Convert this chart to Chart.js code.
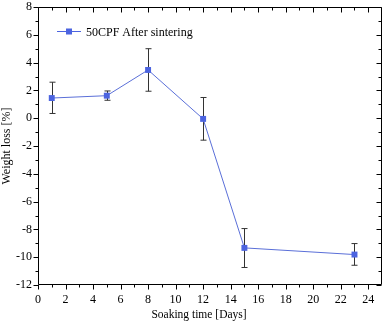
<!DOCTYPE html>
<html>
<head>
<meta charset="utf-8">
<script src="https://cdn.jsdelivr.net/npm/chart.js@4.4.0/dist/chart.umd.min.js"></script>
<style>
html, body { margin: 0; padding: 0; background: #fff; }
#wrap { width: 388px; height: 323px; }
</style>
</head>
<body>
<div id="wrap"><canvas id="chart"></canvas></div>
<script>
// soaking time (days) vs weight loss (%)
const days = [1, 5, 8, 12, 15, 23];
const weightLoss = [1.45, 1.62, 3.47, -0.05, -9.33, -9.81];
const errHigh = [2.59, 1.96, 5.0, 1.49, -7.94, -9.02];
const errLow = [0.34, 1.29, 1.94, -1.58, -10.74, -10.58];
const seriesName = '50CPF After sintering';
const xTitle = 'Soaking time [Days]';
const yTitle = 'Weight loss [%]';
const xRange = [0, 25];
const yRange = [-12, 8];

const serif = "'Liberation Serif', 'Times New Roman', serif";
const blue = '#4c64e0';

const errorBars = {
	id: 'errorBars',
	beforeDatasetsDraw(chart) {
		const { ctx, scales: { x, y } } = chart;
		ctx.save();
		ctx.strokeStyle = '#333';
		ctx.lineWidth = 1;
		days.forEach((d, i) => {
			const px = Math.round(x.getPixelForValue(d)) + .5;
			const top = y.getPixelForValue(errHigh[i]);
			const bot = y.getPixelForValue(errLow[i]);
			ctx.beginPath();
			ctx.moveTo(px, top);
			ctx.lineTo(px, bot);
			ctx.moveTo(px - 3, top);
			ctx.lineTo(px + 3, top);
			ctx.moveTo(px - 3, bot);
			ctx.lineTo(px + 3, bot);
			ctx.stroke();
		});
		ctx.restore();
	}
};

const frame = {
	id: 'frame',
	afterDraw(chart) {
		const { ctx, chartArea: a, scales: { x, y } } = chart;
		ctx.save();
		ctx.strokeStyle = '#000';
		ctx.lineWidth = 1;
		const L = Math.round(a.left) + .5, R = Math.round(a.right) - .5;
		const T = Math.round(a.top) + .5, B = Math.round(a.bottom) - .5;
		ctx.beginPath();
		ctx.rect(L, T, R - L, B - T);
		// ticks: outward on bottom/left, inward on top/right
		for (let v = xRange[0]; v <= 24; v++) {
			const px = Math.round(x.getPixelForValue(v)) + .5;
			const len = v % 2 ? 3 : 5;
			ctx.moveTo(px, B); ctx.lineTo(px, B + len);
			ctx.moveTo(px, T); ctx.lineTo(px, T + len);
		}
		for (let v = yRange[0]; v <= yRange[1]; v++) {
			const py = Math.round(y.getPixelForValue(v)) + .5;
			const len = v % 2 ? 3 : 5;
			ctx.moveTo(L, py); ctx.lineTo(L - len, py);
			ctx.moveTo(R, py); ctx.lineTo(R - len, py);
		}
		ctx.stroke();

		// x axis title (sits a bit left of centre in the original)
		ctx.fillStyle = '#000';
		ctx.font = '11.5px ' + serif;
		ctx.textAlign = 'center';
		ctx.textBaseline = 'middle';
		ctx.fillText(xTitle, 199, 315);

		// legend
		const ly = 31.5, lx = 57;
		ctx.strokeStyle = blue;
		ctx.beginPath();
		ctx.moveTo(lx, ly); ctx.lineTo(lx + 24, ly);
		ctx.stroke();
		ctx.fillStyle = blue;
		ctx.fillRect(lx + 12 - 3, ly - 3, 6, 6);
		ctx.fillStyle = '#000';
		ctx.font = '12px ' + serif;
		ctx.textAlign = 'left';
		ctx.fillText(seriesName, lx + 29, ly + 1);
		ctx.restore();
	}
};

new Chart(document.getElementById('chart'), {
	type: 'line',
	data: {
		labels: days,
		datasets: [{
			label: seriesName,
			data: days.map((d, i) => ({ x: d, y: weightLoss[i] })),
			borderColor: '#5a6fd8',
			backgroundColor: blue,
			borderWidth: 1,
			pointStyle: 'rect',
			pointRadius: 4.2,
			pointHoverRadius: 4.2,
			pointBorderWidth: 0,
			tension: 0
		}]
	},
	options: {
		animation: false,
		responsive: true,
		maintainAspectRatio: false,
		layout: { padding: { top: 7, right: 6, left: 0, bottom: 0 } },
		plugins: {
			legend: { display: false },
			tooltip: { enabled: false }
		},
		scales: {
			x: {
				type: 'linear',
				min: xRange[0],
				max: xRange[1],
				afterFit: s => { s.height = 38; s.paddingLeft = 0; s.paddingRight = 0; },
				grid: { display: false, drawTicks: false },
				border: { display: false },
				ticks: {
					stepSize: 2,
					includeBounds: false,
					padding: 8,
					maxRotation: 0,
					color: '#000',
					font: { family: serif, size: 12 }
				}
			},
			y: {
				min: yRange[0],
				max: yRange[1],
				afterFit: s => { s.width = 38; s.paddingTop = 0; s.paddingBottom = 0; },
				grid: { display: false, drawTicks: false },
				border: { display: false },
				ticks: {
					stepSize: 2,
					padding: 6,
					color: '#000',
					font: { family: serif, size: 12 }
				},
				title: {
					display: true,
					text: yTitle,
					color: '#000',
					padding: { top: 0, bottom: 0 },
					font: { family: serif, size: 12 }
				}
			}
		}
	},
	plugins: [errorBars, frame]
});
</script>
</body>
</html>
